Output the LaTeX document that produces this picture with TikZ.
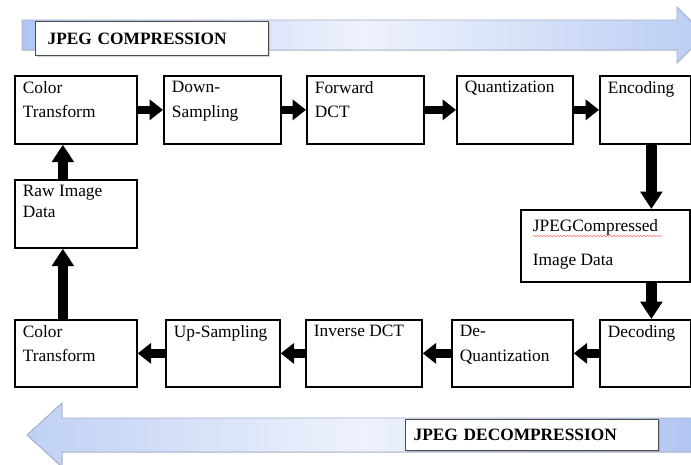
\documentclass[tikz,border=0pt]{standalone}
\usepackage{fontspec}
\setmainfont{Liberation Serif}
\usepackage{xcolor}
\usepackage{tikz}
\usetikzlibrary{arrows.meta,positioning,calc,shadows,decorations.pathmorphing}

\definecolor{bandblue}{RGB}{176,197,242}
\definecolor{bandpale}{RGB}{238,242,252}
\definecolor{bandedge}{RGB}{160,172,205}

\begin{document}
\begin{tikzpicture}[
            x=0.75pt, y=-0.75pt,
            box/.style={draw, rectangle, line width=1.3pt, anchor=north west,
                 minimum width=87.75pt, minimum height=51pt, inner sep=0pt},
            txt/.style={anchor=north west, align=left, inner xsep=6.5pt, inner ysep=4.5pt,
                 font=\fontsize{13pt}{18.5pt}\selectfont},
            tag/.style={draw=black!70, line width=0.9pt, fill=white, anchor=north west,
                 align=left, font=\fontsize{13pt}{15pt}\selectfont\bfseries,
                 drop shadow={shadow xshift=1pt, shadow yshift=-1.2pt, opacity=.35}},
            fat/.style={line width=6.5pt, -{Triangle[length=10pt,width=15pt]}},
            vfat/.style={line width=8pt, -{Triangle[length=13pt,width=16pt]}}
            ]
            \useasboundingbox (0,0) rectangle (691,464);
            \clip (0,0) rectangle (691,464);

            % Banners
            \fill[left color=bandblue, right color=bandblue!85, middle color=bandpale, draw=bandedge, line width=.6pt]
                (22,20) -- (677,20) -- (677,7) -- (705,35) -- (677,63) -- (677,50) -- (22,50) -- cycle;
            \fill[left color=bandblue!80, right color=bandblue, middle color=bandpale, draw=bandedge, line width=.6pt]
                (700,418) -- (62,418) -- (62,403) -- (27,435) -- (62,467) -- (62,452) -- (700,452) -- cycle;
            \node[tag, minimum width=174.75pt, minimum height=25.5pt, text width=156.75pt, inner xsep=9pt]
                (comp) at (35,21) {JPEG COMPRESSION};
            \node[tag, minimum width=189.75pt, minimum height=23.25pt, text width=177.75pt, inner xsep=6pt]
                (decomp) at (405,419) {JPEG DECOMPRESSION};

            % Compression row
            \node[box, minimum width=91.5pt, label={[txt]north west:Color\\Transform}] (ct1) at (14,75) {};
            \node[box, label={[txt]north west:Down-\\Sampling}] (ds) at (163,75) {};
            \node[box, label={[txt]north west:Forward\\DCT}] (fdct) at (306,75) {};
            \node[box, minimum width=87pt, label={[txt]north west:Quantization}] (quant) at (456,75) {};
            \node[box, minimum width=68.25pt, label={[txt]north west:Encoding}] (enc) at (599,75) {};
            \node[box, minimum width=91.5pt, label={[txt, font=\fontsize{13pt}{16pt}\selectfont]north west:Raw Image\\Data}] (raw) at (14,179) {};

            % Compressed data
            \node[box, minimum width=126.75pt, minimum height=54pt,
                 label={[txt, inner xsep=9.5pt, inner ysep=8pt, font=\fontsize{13pt}{25pt}\selectfont]north west:JPEGCompressed\\Image Data}] (jc) at (520,209) {};
            \draw[red!55, line width=.4pt, decorate, decoration={snake, amplitude=.5pt, segment length=2.5pt}]
                ($(jc.north west)+(13,27)$) -- ($(jc.north west)+(142,27)$);

            % Decompression row
            \node[box, minimum width=91.5pt, minimum height=50.25pt, label={[txt]north west:Color\\Transform}] (ct2) at (14,319) {};
            \node[box, minimum width=85.5pt, minimum height=50.25pt, label={[txt]north west:Up-Sampling}] (us) at (165,319) {};
            \node[box, minimum width=87pt, minimum height=50.25pt, label={[txt]north west:Inverse DCT}] (idct) at (305,319) {};
            \node[box, minimum width=90.75pt, minimum height=50.25pt, label={[txt]north west:De-\\Quantization}] (dq) at (451,319) {};
            \node[box, minimum width=68.25pt, minimum height=50.25pt, label={[txt]north west:Decoding}] (dec) at (599,319) {};

            % Arrows
            \draw[fat] (ct1.east) -- (ds.west);
            \draw[fat] (ds.east) -- (fdct.west);
            \draw[fat] (fdct.east) -- (quant.west);
            \draw[fat] (quant.east) -- (enc.west);
            \coordinate (e1) at ($(enc.south)+(6,0)$);
            \draw[vfat] (e1) -- (e1 |- jc.north);
            \draw[vfat] (e1 |- jc.south) -- (e1 |- dec.north);
            \draw[fat] (dec.west) -- (dq.east);
            \draw[fat] (dq.west) -- (idct.east);
            \draw[fat] (idct.west) -- (us.east);
            \draw[fat] (us.west) -- (ct2.east);
            \coordinate (c1) at ($(ct2.north)+(-13,0)$);
            \draw[vfat] (c1) -- (c1 |- raw.south);
            \draw[vfat] (c1 |- raw.north) -- (c1 |- ct1.south);
        \end{tikzpicture}
\end{document}
